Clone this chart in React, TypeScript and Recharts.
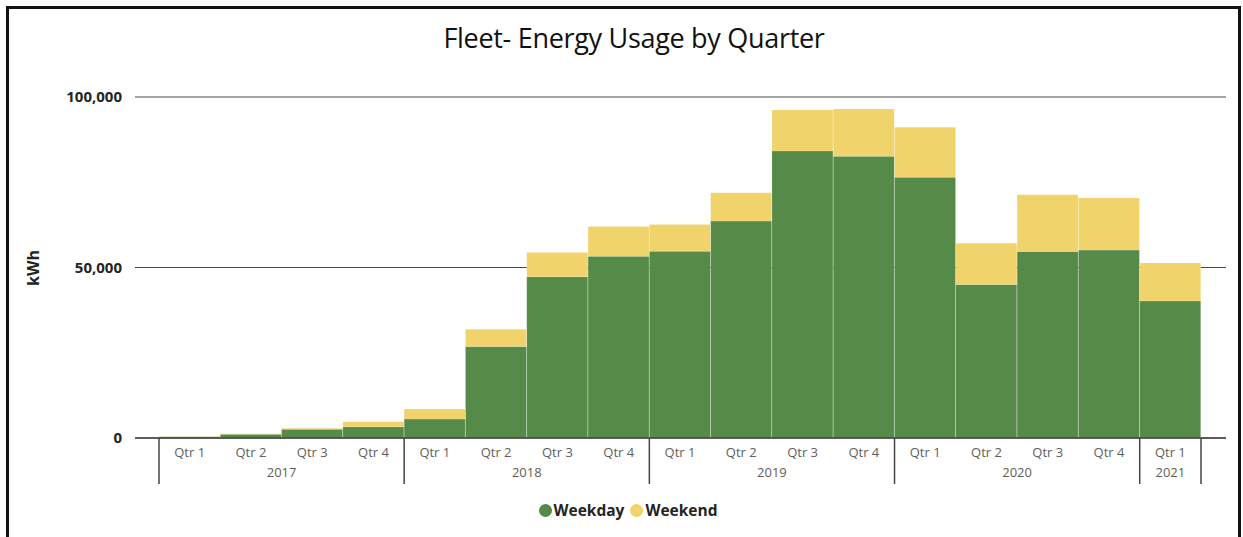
import React from 'react';
import { BarChart, Bar, XAxis, YAxis, CartesianGrid } from 'recharts';

const quarters = ['Qtr 1', 'Qtr 2', 'Qtr 3', 'Qtr 4', 'Qtr 1', 'Qtr 2', 'Qtr 3', 'Qtr 4', 'Qtr 1', 'Qtr 2', 'Qtr 3', 'Qtr 4', 'Qtr 1', 'Qtr 2', 'Qtr 3', 'Qtr 4', 'Qtr 1'];
const years = ['2017', '2017', '2017', '2017', '2018', '2018', '2018', '2018', '2019', '2019', '2019', '2019', '2020', '2020', '2020', '2020', '2021'];
const weekday = [400, 1100, 2550, 3300, 5550, 26800, 47300, 53300, 54800, 63600, 84200, 82600, 76500, 45000, 54700, 55100, 40200];
const weekend = [60, 150, 300, 1500, 2950, 5100, 7100, 8700, 7800, 8300, 12000, 13900, 14600, 12100, 16600, 15300, 11100];
const yTicks = [0, 50000, 100000];
const seriesNames = ['Weekday', 'Weekend'];
const seriesColors = ['#568A48', '#F0D36A'];

const data = quarters.map((q, i) => ({
  key: `${years[i]}|${q}`,
  weekday: weekday[i],
  weekend: weekend[i],
}));

const FONT = '"Open Sans", "Noto Sans", sans-serif';

const QuarterTick = (props: any) => {
  const { x, y, payload, index } = props;
  const half = payload && typeof payload.offset === 'number' && payload.offset > 0 ? payload.offset : 30.65;
  const yr = years[index];
  const isFirst = index === 0 || years[index - 1] !== yr;
  const isLast = index === years.length - 1;
  let groupSize = 0;
  if (isFirst) {
    for (let j = index; j < years.length && years[j] === yr; j++) groupSize++;
  }
  return (
    <g>
      <text x={x} y={y + 19} textAnchor="middle" fill="#605E5C" fontSize={13} fontFamily={FONT}>
        {quarters[index]}
      </text>
      {isFirst && (
        <line x1={x - half} y1={y} x2={x - half} y2={y + 46} stroke="#444" strokeWidth={1.5} />
      )}
      {isLast && (
        <line x1={x + half} y1={y} x2={x + half} y2={y + 46} stroke="#444" strokeWidth={1.5} />
      )}
      {isFirst && (
        <text x={x + (groupSize - 1) * half} y={y + 39} textAnchor="middle" fill="#605E5C" fontSize={13} fontFamily={FONT}>
          {yr}
        </text>
      )}
    </g>
  );
};

export default function App() {
  return (
    <div style={{ position: 'absolute', left: 0, top: 0, width: 1243, height: 537, background: '#fff', overflow: 'hidden' }}>
      <div
        style={{
          position: 'absolute',
          left: 6,
          top: 6,
          width: 1229,
          height: 540,
          borderLeft: '3px solid #111',
          borderTop: '3px solid #111',
          borderRight: '3px solid #111',
        }}
      />
      <div
        style={{
          position: 'absolute',
          left: 0,
          top: 19,
          width: 1268,
          textAlign: 'center',
          fontFamily: FONT,
          fontSize: 27,
          letterSpacing: -0.3,
          color: '#111',
        }}
      >
        Fleet- Energy Usage by Quarter
      </div>
      <div
        style={{
          position: 'absolute',
          left: 6,
          top: 268,
          width: 0,
          height: 0,
        }}
      >
        <div
          style={{
            position: 'absolute',
            left: 27,
            top: 0,
            transform: 'translate(-50%, -50%) rotate(-90deg)',
            fontFamily: FONT,
            fontWeight: 700,
            fontSize: 16,
            color: '#222',
            whiteSpace: 'nowrap',
          }}
        >
          kWh
        </div>
      </div>
      <div style={{ position: 'absolute', left: 0, top: 0 }}>
        <BarChart
          width={1243}
          height={537}
          data={data}
          margin={{ top: 97, right: 17, left: 0, bottom: 49 }}
          barCategoryGap={0}
        >
          <CartesianGrid vertical={false} horizontal={true} stroke="#333" strokeOpacity={0.9} />
          <XAxis
            dataKey="key"
            height={50}
            interval={0}
            tickLine={false}
            tickSize={0}
            tickMargin={0}
            axisLine={{ stroke: '#444', strokeWidth: 1.5 }}
            padding={{ left: 24, right: 25 }}
            tick={<QuarterTick />}
          />
          <YAxis
            width={135}
            domain={[0, 100000]}
            ticks={yTicks}
            axisLine={false}
            tickLine={false}
            tickSize={0}
            tickMargin={13}
            tickFormatter={(v: number) => v.toLocaleString('en-US')}
            tick={{ fill: '#252423', fontSize: 15, fontWeight: 700, fontFamily: FONT }}
          />
          <Bar
            dataKey="weekday"
            name={seriesNames[0]}
            stackId="a"
            fill={seriesColors[0]}
            stroke="rgba(255,255,255,0.15)"
            strokeWidth={1}
            isAnimationActive={false}
          />
          <Bar
            dataKey="weekend"
            name={seriesNames[1]}
            stackId="a"
            fill={seriesColors[1]}
            stroke="rgba(255,255,255,0.15)"
            strokeWidth={1}
            isAnimationActive={false}
          />
        </BarChart>
      </div>
      <div
        style={{
          position: 'absolute',
          left: 0,
          top: 499,
          width: 1256,
          display: 'flex',
          justifyContent: 'center',
          alignItems: 'center',
          fontFamily: FONT,
          fontWeight: 700,
          fontSize: 15.5,
          color: '#252423',
        }}
      >
        {seriesNames.map((n, i) => (
          <div key={n} style={{ display: 'flex', alignItems: 'center', marginRight: i === 0 ? 6 : 0 }}>
            <span
              style={{
                display: 'inline-block',
                width: 13,
                height: 13,
                borderRadius: 7,
                background: seriesColors[i],
                marginRight: 2,
              }}
            />
            {n}
          </div>
        ))}
      </div>
    </div>
  );
}
